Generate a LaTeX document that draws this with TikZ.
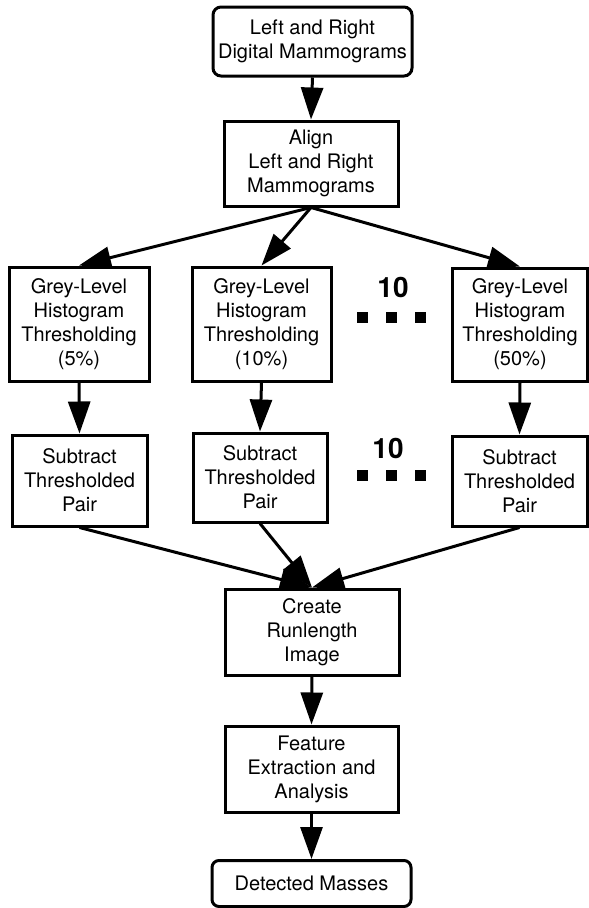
\documentclass[tikz,border=0pt]{standalone}
\usepackage{fontspec}
\setmainfont{TeX Gyre Heros}
\usetikzlibrary{arrows.meta}
\begin{document}
\begin{tikzpicture}[x=1pt,y=-1pt,
  box/.style={draw,line width=3pt,inner sep=0pt,align=center,
    font=\fontsize{20}{24}\selectfont},
  rbox/.style={box,rounded corners=8pt},
  arr/.style={line width=3pt,-{Triangle[length=32pt,width=22pt]}},
  ten/.style={font=\fontsize{28}{30}\selectfont\bfseries,inner sep=0pt}]
\useasboundingbox (0,0) rectangle (589,908);
% top
\node[rbox,minimum width=199pt,minimum height=69pt] (b1) at (312.5,41.5) {Left and Right\\Digital Mammograms};
\node[box,minimum width=174pt,minimum height=85pt] (b2) at (311,163.5) {Align\\Left and Right\\Mammograms};
% row 3
\node[box,minimum width=140pt,minimum height=114pt] (gA) at (79,324) {Grey-Level\\Histogram\\Thresholding\\(5\%)};
\node[box,minimum width=139pt,minimum height=114pt] (gB) at (261.5,324) {Grey-Level\\Histogram\\Thresholding\\(10\%)};
\node[box,minimum width=135pt,minimum height=113pt] (gC) at (520,324.5) {Grey-Level\\Histogram\\Thresholding\\(50\%)};
\node[ten] (t1) at (393,287) {10};
\fill (357,311.5) rectangle (368,322.5);
\fill (386,311.5) rectangle (397,322.5);
\fill (415,311.5) rectangle (426,322.5);
% row 4
\node[box,minimum width=135pt,minimum height=91pt] (sA) at (79.5,480.5) {Subtract\\Thresholded\\Pair};
\node[box,minimum width=134pt,minimum height=89pt] (sB) at (260,477.5) {Subtract\\Thresholded\\Pair};
\node[box,minimum width=135pt,minimum height=90pt] (sC) at (519.5,481) {Subtract\\Thresholded\\Pair};
\node[ten] (t2) at (388,448) {10};
\fill (357,469.5) rectangle (368,480.5);
\fill (386,469.5) rectangle (397,480.5);
\fill (414.5,469.5) rectangle (425.5,480.5);
% bottom
\node[box,minimum width=174pt,minimum height=86pt] (cr) at (312,632) {Create\\Runlength\\Image};
\node[box,minimum width=173pt,minimum height=86pt] (fe) at (311.5,769) {Feature\\Extraction and\\Analysis};
\node[rbox,rounded corners=7pt,minimum width=199pt,minimum height=46pt] (dm) at (311.5,883.5) {Detected Masses};
% connectors
\draw[arr] (b1.south) -- (b2.north);
\draw[arr] (b2.south) -- (gA.north);
\draw[arr] (b2.south) -- (gB.north);
\draw[arr] (b2.south) -- (gC.north);
\draw[arr] (gA.south) -- (sA.north);
\draw[arr] (gB.south) -- (sB.north);
\draw[arr] (gC.south) -- (sC.north);
\draw[arr] (sA.south) -- (cr.north);
\draw[arr] (sB.south) -- (cr.north);
\draw[arr] (sC.south) -- (cr.north);
\draw[arr] (cr.south) -- (fe.north);
\draw[arr] (fe.south) -- (dm.north);
\end{tikzpicture}
\end{document}
